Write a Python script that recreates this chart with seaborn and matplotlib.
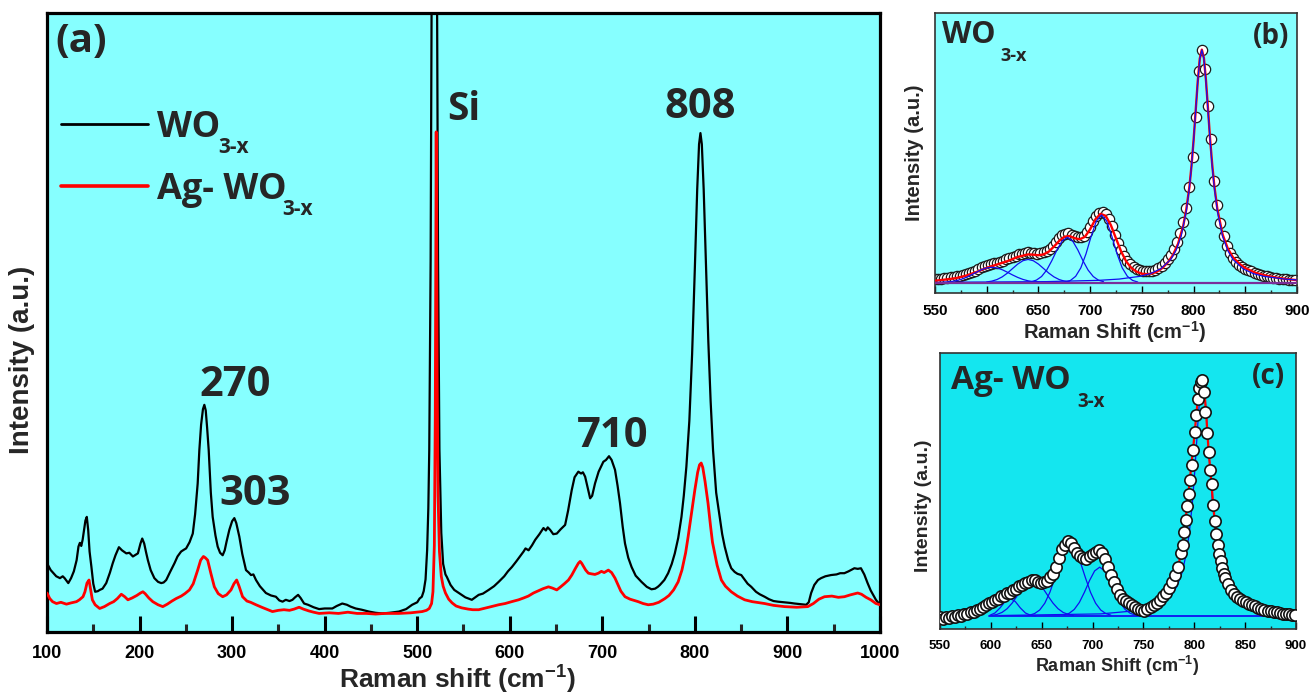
import matplotlib
matplotlib.use("Agg")
import matplotlib.pyplot as plt
import seaborn as sns
from matplotlib.lines import Line2D
from matplotlib.ticker import MultipleLocator, NullLocator

# ---------------- data: panel (a) ----------------
wo_shift = [100, 104, 107, 110, 114, 117, 119, 123, 126, 129, 132, 134, 135.5, 137, 138.5, 140, 141.5, 143,
            144.5, 146, 148, 150, 152, 155, 157, 160, 164, 168, 171, 174, 177.7, 181, 185.7, 189, 192.8, 196,
            198.2, 201, 202.9, 205, 207, 209, 212, 216, 220, 223.4, 226, 228.8, 233, 237.7, 241, 244.9, 248,
            250.3, 254, 257.5, 260, 262.8, 264.6, 266.5, 268.5, 270, 271.5, 273, 274.7, 277, 279, 282, 284.4,
            287, 289.8, 292, 294, 297, 300, 302.4, 304.5, 307.8, 311, 315, 318, 320.4, 323, 325.8, 330, 336.5,
            342, 347.3, 351, 354.5, 358, 362, 365.2, 368, 371.3, 374, 377.8, 382, 388, 394, 400, 408.3, 413,
            419, 424, 428, 433.5, 440, 447.8, 455, 462.2, 470, 480.2, 488, 494.5, 500, 502.5, 505, 507, 509,
            510.7, 512, 513, 514.5, 516, 518.5, 521, 522.5, 524, 526, 528, 530.5, 532, 536, 540, 545, 552, 559,
            566.4, 571, 577.2, 583, 588, 594, 598, 602.3, 607, 611, 614.9, 617, 620.3, 624, 627.5, 632, 636.4,
            639, 641, 643.6, 647, 650.8, 655, 659.8, 663, 666.9, 670, 674.1, 677, 679, 681.4, 684, 686.8, 689,
            692.1, 696, 701.1, 704, 707.2, 710, 713.7, 716.5, 719.1, 722, 724.5, 728, 731.6, 736, 742.3, 748,
            753.1, 757, 760, 762.2, 767, 771.1, 775, 778.3, 782, 785.5, 788, 790.8, 794, 797, 800, 802.5, 804.5,
            806, 807.5, 809.5, 812, 814.5, 817, 819.6, 823, 826.8, 829.5, 832.2, 836, 839.3, 843, 846, 850.1,
            854, 857, 860.9, 866, 870, 875.3, 880, 885, 889.7, 897, 903, 907.7, 914, 920.2, 923, 925.6, 929,
            933, 936.3, 941, 947.1, 953, 957, 961.5, 966, 972.3, 976, 979.4, 983, 986.6, 990, 995.6, 1000]
wo_int = [11.1, 10.0, 9.5, 9.0, 8.7, 9.0, 8.7, 7.9, 8.7, 9.8, 11.6, 13.8, 14.4, 13.9, 14.9, 16.5, 18.0, 18.6,
          16.5, 13.0, 10.5, 7.8, 6.5, 6.6, 6.8, 7.0, 7.9, 9.6, 11.1, 12.4, 13.7, 13.2, 12.7, 12.8, 12.2, 12.5,
          12.7, 14.3, 15.1, 14.3, 12.9, 11.6, 10.0, 8.7, 8.1, 7.9, 8.0, 8.4, 9.7, 11.1, 12.2, 13.0, 13.3,
          13.5, 14.5, 15.9, 19.0, 24.0, 29.4, 33.5, 36.0, 36.7, 35.8, 33.0, 29.4, 22.5, 18.6, 15.6, 13.8,
          12.8, 12.4, 13.2, 14.6, 16.5, 17.9, 18.4, 17.6, 15.4, 12.6, 10.0, 9.6, 9.2, 9.3, 8.4, 7.4, 6.3,
          5.9, 5.7, 5.1, 4.9, 5.2, 5.0, 5.2, 5.6, 6.0, 5.5, 4.6, 4.4, 4.0, 3.7, 3.8, 3.8, 4.2,
          4.6, 4.4, 4.1, 3.8, 3.6, 3.3, 3.1, 3.0, 3.1, 3.3, 3.7, 4.4, 4.8, 5.4, 5.7, 6.6, 8.5,
          13.2, 20.0, 29.4, 60.0, 120.0, 220.0, 120.0, 60.0, 29.4, 16.0, 11.0, 9.3, 8.9, 7.6, 6.8, 6.3, 5.6, 5.2,
          6.0, 6.2, 6.8, 7.4, 8.1, 9.0, 9.8, 10.5, 11.4, 12.2, 13.0, 13.5, 13.2, 14.0, 14.9, 15.8, 16.8,
          16.4, 16.9, 16.5, 15.8, 15.9, 16.6, 17.3, 19.6, 22.9, 25.0, 25.9, 25.6, 25.8, 25.1, 23.4, 21.6, 22.0,
          24.0, 25.9, 27.5, 27.8, 28.4, 27.8, 26.2, 23.6, 20.8, 17.0, 14.3, 12.0, 10.5, 9.1, 8.1, 7.3,
          6.9, 7.0, 7.3, 7.6, 8.4, 9.5, 11.0, 12.7, 15.2, 18.6, 22.0, 26.7, 34.1, 44.9, 59.0, 71.5, 78.8,
          80.6, 78.8, 71.5, 59.0, 47.0, 37.3, 29.4, 22.5, 18.6, 15.8, 13.8, 11.6, 10.3, 9.7, 9.4, 9.2,
          8.4, 7.8, 7.3, 6.5, 6.1, 5.7, 5.3, 5.0, 4.9, 4.8, 4.7, 4.6, 4.5, 4.4, 4.8, 6.3, 7.6,
          8.4, 8.7, 9.0, 9.2, 9.3, 9.5, 9.5, 9.8, 10.3, 10.2, 10.3, 9.3, 7.9, 6.7, 5.2, 4.4]

ag_shift = [100, 103, 106, 110.2, 115, 121, 126, 131.8, 135, 138.9, 141, 143.2, 145.4, 147, 149, 152, 156.9,
            162, 167.7, 172, 176, 180.3, 184, 187.4, 192, 197, 201, 203.6, 206, 210, 214.3, 220, 225.1, 230,
            235, 239.5, 245, 249, 253.9, 258, 262.8, 266, 269, 271, 273.6, 277, 280.8, 285, 289.8, 294, 298.8,
            302, 304.9, 307.5, 311.3, 316, 320, 325.8, 332, 337, 343.6, 350, 356, 362, 367, 372.4, 377, 383,
            388, 394, 405, 415, 425, 435, 445, 455, 465, 480, 493, 505.3, 510, 513, 515.5, 517, 518.5, 519.5,
            520.5, 521.5, 522.5, 524, 526, 528, 530.5, 534, 537.7, 542, 548, 555, 560, 566.4, 572, 580, 588,
            595, 602, 609.5, 615, 620, 625.6, 630, 636, 641.8, 646, 650.8, 655, 659, 663.4, 667, 671, 674.1,
            676, 677.7, 680, 682, 684.9, 688, 692, 695.7, 699, 702, 706.5, 710, 713.7, 717, 720, 724.5, 730,
            738.8, 744, 749.6, 755, 761, 767.6, 772, 777, 781.9, 786, 790, 792.7, 796, 799.9, 803, 805, 806.8,
            808.5, 811, 814.2, 817, 819, 821.4, 824, 828.6, 833, 839.3, 846, 853.8, 862, 875.3, 885, 896.9,
            910, 922, 928, 934, 940, 948, 955, 961.5, 968, 975.9, 980, 985, 990, 995.6, 1000]
ag_int = [6.3, 5.4, 4.9, 4.6, 4.8, 4.5, 4.7, 4.9, 5.2, 5.7, 6.5, 7.9, 8.4, 7.0, 5.2, 4.4, 3.8,
          4.1, 4.6, 4.9, 5.4, 6.1, 5.7, 5.2, 5.5, 5.9, 6.3, 6.5, 6.2, 5.5, 4.9, 4.4, 4.1, 4.5,
          5.0, 5.4, 5.8, 6.2, 6.8, 7.8, 10.0, 11.6, 12.2, 12.0, 11.6, 9.5, 7.3, 6.2, 5.7, 6.0, 6.8,
          7.8, 8.4, 7.4, 5.7, 5.0, 4.8, 4.4, 4.0, 3.7, 3.3, 3.5, 3.6, 3.5, 3.7, 4.0, 3.7, 3.4,
          3.2, 3.0, 3.1, 3.0, 3.2, 3.0, 3.0, 2.9, 3.0, 3.0, 3.1, 3.3, 3.5, 3.8, 4.6, 6.5, 14.0, 35.0,
          80.8, 42.0, 22.0, 13.0, 9.0, 7.4, 6.3, 5.3, 4.7, 4.2, 3.9, 3.7, 3.6, 3.6, 3.8, 4.1, 4.4,
          4.6, 4.9, 5.2, 5.5, 5.8, 6.3, 6.6, 7.0, 7.3, 7.1, 6.8, 7.3, 7.8, 8.4, 9.2, 10.3, 11.1,
          11.4, 11.1, 10.5, 10.0, 9.5, 9.4, 9.3, 9.5, 9.8, 9.6, 10.0, 9.6, 8.7, 7.6, 6.6, 5.7, 5.3,
          4.9, 4.6, 4.4, 4.5, 4.8, 5.4, 5.9, 6.8, 8.1, 10.0, 12.8, 15.4, 18.8, 22.9, 25.8, 27.0, 27.3,
          26.6, 24.3, 20.8, 17.0, 14.5, 12.7, 10.8, 8.4, 7.4, 6.5, 5.8, 5.2, 4.9, 4.6, 4.3, 4.1,
          4.0, 4.1, 4.6, 5.3, 5.7, 5.8, 5.6, 5.7, 6.0, 6.3, 6.1, 5.6, 5.2, 4.6, 4.4]

peak_labels = ["270", "303", "710", "808"]

# ---------------- data: panel (b) WO3-x fit ----------------
b_shift = [550, 553, 556, 559, 562, 565, 568, 571, 574, 577, 580, 583, 586, 589, 592, 595, 598, 601, 604, 607,
           610, 613, 616, 619, 622, 625, 628, 631, 634, 637, 640, 643, 646, 649, 652, 655, 658, 661, 664, 667,
           670, 673, 676, 679, 682, 685, 688, 691, 694, 697, 700, 703, 706, 709, 712, 715, 718, 721, 724, 727,
           730, 733, 736, 739, 742, 745, 748, 751, 754, 757, 760, 763, 766, 769, 772, 775, 778, 781, 784, 787,
           790, 793, 796, 799, 802, 805, 808, 811, 814, 817, 820, 823, 826, 829, 832, 835, 838, 841, 844, 847,
           850, 853, 856, 859, 862, 865, 868, 871, 874, 877, 880, 883, 886, 889, 892, 895, 898]
b_meas = [4.9, 5.0, 5.1, 5.2, 5.4, 5.6, 5.8, 6.0, 6.2, 6.5, 6.8, 7.1, 7.5, 8.0, 8.6, 9.2, 9.7, 10.1, 10.4, 10.6,
          10.9, 11.2, 11.6, 12.0, 12.4, 12.9, 13.4, 13.8, 14.1, 14.4, 14.5, 14.4, 14.2, 14.1, 14.2, 14.5, 15.0,
          15.8, 16.9, 18.3, 19.6, 20.6, 21.2, 21.3, 20.9, 20.3, 19.9, 19.9, 20.5, 21.8, 23.6, 25.6, 27.4, 28.6,
          29.0, 28.3, 26.5, 23.8, 20.8, 17.8, 15.2, 13.1, 11.5, 10.3, 9.4, 8.7, 8.2, 7.9, 7.8, 7.8, 8.0, 8.4,
          9.0, 9.8, 10.8, 12.0, 13.6, 15.6, 18.2, 21.5, 25.5, 30.5, 38.0, 48.5, 63.0, 79.5, 87.0, 80.0, 67.0,
          55.0, 40.0, 31.5, 25.0, 20.3, 16.8, 14.3, 12.5, 11.2, 10.1, 9.3, 8.7, 8.2, 7.7, 7.3, 6.9, 6.5, 6.2,
          5.9, 5.7, 5.5, 5.3, 5.1, 5.0, 4.9, 4.8, 4.7, 4.6]
b_fit_shift = [550, 560, 570, 580, 590, 600, 610, 620, 630, 640, 645, 650, 655, 660, 665, 670, 675, 680, 685, 690,
               695, 700, 705, 710, 715, 720, 725, 730, 735, 740, 745, 750, 755, 760, 765, 770, 775, 780, 785,
               790, 793, 796, 798, 800, 802, 804, 806, 808, 810, 812, 814, 816, 818, 820, 823, 828, 833, 838,
               845, 850, 860, 870, 880, 890, 900]
b_fit = [4.4, 4.8, 5.3, 6.2, 7.5, 9.0, 10.2, 11.4, 12.9, 13.8, 13.7, 13.5, 13.8, 14.8, 16.6, 18.6, 20.1, 20.4,
         19.6, 19.2, 20.1, 22.8, 26.3, 28.3, 27.6, 24.3, 19.5, 14.8, 11.2, 8.9, 7.6, 6.9, 6.7, 7.0, 7.7, 9.0,
         10.9, 13.5, 17.6, 24.0, 30.0, 38.0, 45.5, 54.5, 65.0, 75.5, 83.8, 87.0, 84.0, 76.0, 65.5, 55.0, 46.0,
         38.5, 30.0, 21.0, 16.0, 12.8, 10.2, 8.9, 7.2, 6.2, 5.5, 5.0, 4.6]
b_p1_shift = [550, 555, 560, 565, 570, 575, 580, 585, 590, 595, 600, 605, 610, 615, 620, 625, 630, 635, 640, 645, 650]
b_p1 = [3.75, 3.8, 3.87, 4.05, 4.36, 4.86, 5.57, 6.45, 7.42, 8.33, 8.96, 9.2, 8.96, 8.33, 7.42, 6.45, 5.57,
        4.86, 4.36, 4.05, 3.87]
b_p2_shift = [600, 605, 610, 615, 620, 625, 630, 635, 640, 645, 650, 655, 660, 665, 670, 675, 680]
b_p2 = [3.93, 4.25, 4.82, 5.77, 7.11, 8.74, 10.34, 11.55, 12.0, 11.55, 10.34, 8.74, 7.11, 5.77, 4.82, 4.25, 3.93]
b_p3_shift = [643, 648, 653, 658, 663, 668, 673, 678, 683, 688, 693, 698, 703, 708, 713]
b_p3 = [4.02, 4.6, 5.89, 8.2, 11.59, 15.46, 18.65, 19.9, 18.65, 15.46, 11.59, 8.2, 5.89, 4.6, 4.02]
b_p4_shift = [676, 681, 686, 691, 696, 701, 706, 711, 716, 721, 726, 731, 736, 741, 746]
b_p4 = [3.93, 4.5, 5.97, 9.0, 14.0, 20.3, 25.7, 27.9, 25.7, 20.3, 14.0, 9.0, 5.97, 4.5, 3.93]
b_p5_shift = [558, 658, 708, 728, 748, 758, 768, 778, 783, 788, 793, 796, 798, 800, 802, 804, 806, 808, 810, 812,
              814, 816, 818, 820, 823, 828, 833, 838, 848, 858, 868, 888, 900]
b_p5 = [3.83, 4.07, 4.52, 4.98, 5.95, 6.9, 8.6, 12.0, 15.2, 20.3, 29.3, 37.8, 45.3, 54.5, 64.9, 75.4, 83.7, 86.9,
        83.7, 75.4, 64.9, 54.5, 45.3, 37.8, 29.3, 20.3, 15.2, 12.0, 8.6, 6.9, 5.95, 4.98, 4.67]
b_base_shift = [550, 900]
b_base = [3.7, 3.7]

# ---------------- data: panel (c) Ag-WO3-x fit ----------------
c_shift = [550, 553, 556, 559, 562, 565, 568, 571, 574, 577, 580, 583, 586, 589, 592, 595, 598, 601, 604, 607,
           610, 613, 616, 619, 622, 625, 628, 631, 634, 637, 640, 643, 646, 649, 652, 655, 658, 661, 664, 667,
           670, 673, 676, 679, 682, 685, 688, 691, 694, 697, 700, 703, 706, 709, 712, 715, 718, 721, 724, 727,
           730, 733, 736, 739, 742, 745, 748, 751, 754, 757, 760, 763, 766, 769, 772, 775, 778, 781, 784,
           787, 788.5, 790, 791.5, 793, 794.5, 796, 797.5, 799, 800.5, 802, 803.5, 805, 806.5, 808, 809.5, 811,
           812.5, 814, 815.5, 817, 818.5, 820, 821.5, 823, 824.5, 826, 827.5, 829, 830.5, 833, 836, 839, 842,
           845, 848, 851, 854, 857, 860, 863, 866, 869, 872, 875, 878, 881, 884, 887, 890, 893, 896, 899]
c_meas = [4.2, 3.6, 4.4, 3.9, 4.6, 4.3, 5.0, 4.8, 5.6, 5.4, 6.2, 6.0, 7.0, 7.4, 7.9, 8.8, 9.3, 9.8, 10.6, 10.9,
          11.8, 12.0, 12.9, 13.2, 14.2, 14.6, 15.4, 15.9, 16.8, 17.2, 17.9, 17.6, 17.0, 16.5, 17.1, 17.5, 18.7,
          19.8, 22.6, 25.6, 28.9, 30.6, 32.0, 31.3, 29.2, 27.6, 26.5, 25.9, 25.5, 26.4, 27.1, 27.8, 28.5, 27.4,
          25.2, 22.4, 19.6, 17.1, 14.6, 12.3, 11.0, 10.2, 9.4, 8.6, 8.0, 7.3, 6.9, 6.7, 7.3, 8.0, 8.6, 9.6,
          10.5, 11.8, 13.2, 14.8, 17.0, 19.6, 22.6,
          27.5, 30.5, 35.0, 39.5, 44.5, 49.0, 54.0, 59.5, 64.9, 71.5, 77.5, 83.5, 87.5, 89.6, 90.2, 86.0, 78.5,
          71.0, 64.0, 57.5, 52.5, 45.0, 39.0, 34.5, 30.5, 27.0, 24.5, 22.0, 20.0, 18.5, 16.2, 14.0, 12.6, 11.6,
          10.9, 10.2, 9.7, 9.2, 8.6, 8.2, 7.6, 7.3, 7.0, 6.6, 6.5, 6.2, 6.0, 5.9, 5.6, 5.5, 5.4, 5.2, 5.0]
c_fit_shift = [550, 570, 590, 610, 630, 640, 650, 660, 665, 670, 675, 678, 682, 688, 694, 700, 706, 710, 715, 720,
               725, 730, 740, 750, 760, 770, 775, 780, 785, 790, 794, 797, 800, 803, 806, 808, 810, 812, 814,
               817, 820, 823, 827, 832, 840, 850, 860, 875, 890, 900]
c_fit = [4.3, 5.0, 7.6, 11.5, 15.5, 17.4, 17.0, 19.2, 23.0, 28.2, 31.3, 31.6, 29.4, 26.6, 25.7, 27.0, 28.2, 26.8,
         22.5, 17.6, 13.4, 11.0, 8.4, 6.9, 8.4, 12.2, 14.7, 18.6, 24.0, 34.5, 48.0, 59.0, 69.5, 81.5, 89.0, 90.0,
         86.0, 76.0, 65.0, 52.0, 39.5, 31.0, 23.0, 17.0, 12.4, 9.8, 8.1, 6.4, 5.5, 5.0]
c_p1_shift = [599, 604, 609, 614, 619, 624, 629, 634, 639, 644]
c_p1 = [4.98, 5.8, 7.63, 9.96, 11.1, 9.96, 7.63, 5.8, 4.98, 4.75]
c_p2_shift = [601, 606, 611, 616, 621, 626, 631, 636, 641, 646, 651, 656, 661, 666, 671, 676, 681]
c_p2 = [4.92, 5.28, 6.02, 7.36, 9.42, 12.08, 14.85, 16.99, 17.8, 16.99, 14.85, 12.08, 9.42, 7.36, 6.02, 5.28, 4.92]
c_p3_shift = [638, 643, 648, 653, 658, 663, 668, 673, 678, 683, 688, 693, 698, 703, 708, 713, 718]
c_p3 = [5.01, 5.6, 6.88, 9.33, 13.28, 18.55, 24.23, 28.7, 30.4, 28.7, 24.23, 18.55, 13.28, 9.33, 6.88, 5.6, 5.01]
c_p4_shift = [672, 677, 682, 687, 692, 697, 702, 707, 712, 717, 722, 727, 732, 737, 742]
c_p4 = [5.05, 5.69, 7.09, 9.62, 13.32, 17.55, 21.04, 22.4, 21.04, 17.55, 13.32, 9.62, 7.09, 5.69, 5.05]
c_p5_shift = [608, 708, 748, 768, 778, 783, 788, 792, 795, 798, 800, 802, 804, 806, 808, 810, 812, 814, 816, 818,
              821, 824, 828, 833, 838, 848, 868, 900]
c_p5 = [4.89, 5.47, 6.8, 9.2, 12.5, 15.5, 20.4, 27.0, 34.5, 45.2, 54.7, 65.8, 77.3, 86.6, 90.2, 86.6, 77.3, 65.8,
        54.7, 45.2, 34.5, 27.0, 20.4, 15.5, 12.5, 9.2, 6.8, 5.6]
c_base_shift = [598, 870]
c_base = [4.7, 4.7]

# ---------------- styling ----------------
sns.set_theme(style="ticks")
plt.rcParams["font.family"] = ["Liberation Sans", "DejaVu Sans"]
plt.rcParams["font.weight"] = "bold"
plt.rcParams["mathtext.default"] = "regular"

W, H = 1312, 694
fig = plt.figure(figsize=(W / 100, H / 100), dpi=100)
fig.patch.set_facecolor("white")

def rect(l, t, r, b):
    return [l / W, 1 - b / H, (r - l) / W, (b - t) / H]

OPEN = ["Open Sans", "DejaVu Sans"]
LIB = ["Liberation Sans", "DejaVu Sans"]

def ftext(px, py, s, size, ha="left", va="baseline", family=OPEN, **kw):
    fig.text(px / W, 1 - py / H, s, fontsize=size, ha=ha, va=va, family=family,
             fontweight="bold", **kw)

LIGHT = "#86FFFF"
DEEP = "#14E6EF"

ax_a = fig.add_axes(rect(47, 13, 880, 632))
ax_b = fig.add_axes(rect(935, 13.3, 1297, 293))
ax_c = fig.add_axes(rect(940, 353, 1296, 629))

# ---- panel (a) ----
ax_a.set_facecolor(LIGHT)
sns.lineplot(x=wo_shift, y=wo_int, ax=ax_a, color="black", lw=1.6, sort=False, estimator=None, zorder=3)
sns.lineplot(x=ag_shift, y=ag_int, ax=ax_a, color="#FF0000", lw=2.0, sort=False, estimator=None, zorder=4)
ax_a.set_xlim(100, 1000)
ax_a.set_ylim(0, 100)
ax_a.xaxis.set_major_locator(MultipleLocator(100))
ax_a.xaxis.set_minor_locator(MultipleLocator(50))
ax_a.yaxis.set_major_locator(NullLocator())
ax_a.tick_params(axis="x", which="major", direction="in", length=11.5, width=2.2, pad=9,
                 labelsize=13, colors="black", bottom=True, top=False)
ax_a.tick_params(axis="x", which="minor", direction="in", length=5.8, width=2.2, bottom=True, top=False)
for lab in ax_a.get_xticklabels():
    lab.set_fontweight("bold")
for sp in ax_a.spines.values():
    sp.set_visible(True)
    sp.set_linewidth(2.3)
    sp.set_color("black")
ax_a.set_xlabel("")
ax_a.set_ylabel("")

leg = ax_a.legend(handles=[Line2D([], [], color="black", lw=2.0), Line2D([], [], color="#FF0000", lw=2.6)],
                  labels=["WO", "Ag- WO"], loc="upper left", bbox_to_anchor=(0.0, 0.867),
                  frameon=False, handlelength=2.4, handletextpad=0.25, labelspacing=0.72,
                  borderaxespad=0.0, prop={"family": OPEN, "weight": "bold", "size": 26})

ftext(218, 153, "3-x", 15)
ftext(282, 215, "3-x", 15)
ftext(55, 52, "(a)", 29)
ftext(447, 120, "Si", 28)
label_pos = [(235, 396), (255, 505), (613, 447), (700, 118)]
for txt, (px, py) in zip(peak_labels, label_pos):
    ftext(px, py, txt, 30, ha="center")

ftext(22, 360, "Intensity (a.u.)", 20, ha="center", va="center", family=LIB, rotation=90)
ftext(457, 689, "Raman shift (cm$^{-1}$)", 19, ha="center", family=LIB)

# ---- panel (b) ----
ax_b.set_facecolor(LIGHT)
sns.scatterplot(x=b_shift, y=b_meas, ax=ax_b, s=55, color="white", edgecolor="#1a1a1a", linewidth=0.9, zorder=2)
sns.lineplot(x=b_fit_shift, y=b_fit, ax=ax_b, color="#FF0000", lw=1.7, sort=False, estimator=None, zorder=3)
for xs, ys in [(b_p1_shift, b_p1), (b_p2_shift, b_p2), (b_p3_shift, b_p3), (b_p4_shift, b_p4), (b_p5_shift, b_p5)]:
    sns.lineplot(x=xs, y=ys, ax=ax_b, color="#1010F0", lw=0.9, sort=False, estimator=None, zorder=4)
sns.lineplot(x=b_base_shift, y=b_base, ax=ax_b, color="#7A2E9A", lw=1.6, sort=False, estimator=None, zorder=4)

# ---- panel (c) ----
ax_c.set_facecolor(DEEP)
for xs, ys in [(c_p1_shift, c_p1), (c_p2_shift, c_p2), (c_p3_shift, c_p3), (c_p4_shift, c_p4), (c_p5_shift, c_p5)]:
    sns.lineplot(x=xs, y=ys, ax=ax_c, color="#1010F0", lw=0.9, sort=False, estimator=None, zorder=2)
sns.lineplot(x=c_base_shift, y=c_base, ax=ax_c, color="#1010F0", lw=1.3, sort=False, estimator=None, zorder=2)
sns.lineplot(x=c_fit_shift, y=c_fit, ax=ax_c, color="#FF0000", lw=1.6, sort=False, estimator=None, zorder=3)
sns.scatterplot(x=c_shift, y=c_meas, ax=ax_c, s=66, color="white", edgecolor="#111111", linewidth=1.2, zorder=4)

for ax, lsize, pad in [(ax_b, 11, 8), (ax_c, 9.5, 8)]:
    ax.set_xlim(550, 900)
    ax.set_ylim(0, 100)
    ax.xaxis.set_major_locator(MultipleLocator(50))
    ax.xaxis.set_minor_locator(MultipleLocator(25))
    ax.yaxis.set_major_locator(NullLocator())
    ax.tick_params(axis="x", which="major", direction="in", length=5, width=1.0, pad=pad,
                   labelsize=lsize, colors="black", bottom=True, top=False)
    ax.tick_params(axis="x", which="minor", direction="in", length=2.5, width=1.0, bottom=True, top=False)
    for lab in ax.get_xticklabels():
        lab.set_fontweight("bold")
    for sp in ax.spines.values():
        sp.set_visible(True)
        sp.set_linewidth(1.2)
        sp.set_color("#333333")
    ax.set_xlabel("")
    ax.set_ylabel("")

ftext(942, 43.3, "WO", 22)
ftext(1000, 61, "3-x", 13)
ftext(1271, 44.5, "(b)", 20, ha="center")
ftext(915, 153, "Intensity (a.u.)", 14.5, ha="center", va="center", family=LIB, rotation=90)
ftext(1115, 339, "Raman Shift (cm$^{-1}$)", 14.5, ha="center", family=LIB)

ftext(951, 389.3, "Ag- WO", 24)
ftext(1077, 406.7, "3-x", 13.5)
ftext(1268, 384.5, "(c)", 20, ha="center")
ftext(923, 506, "Intensity (a.u.)", 14, ha="center", va="center", family=LIB, rotation=90)
ftext(1117, 672, "Raman Shift (cm$^{-1}$)", 13, ha="center", family=LIB)

fig.savefig("out.png", dpi=100, facecolor="white")
